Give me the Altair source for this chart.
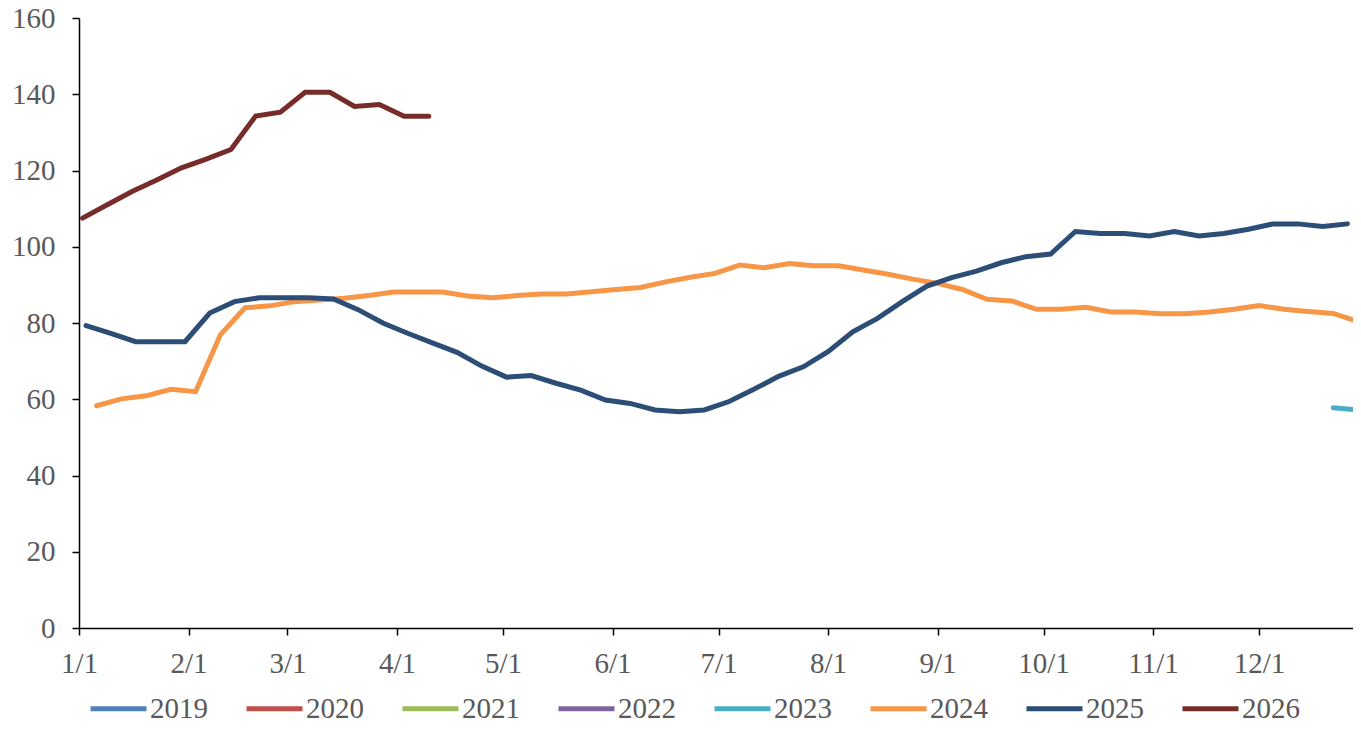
import altair as alt
import pandas as pd

years = ["2019", "2020", "2021", "2022", "2023", "2024", "2025", "2026"]
colors = ["#4F81BD", "#C0504D", "#9BBB59", "#8064A2", "#4BACC6", "#F79646", "#2C4D75", "#772C2A"]

# weekly series (plotted on a common calendar year)
v2023_start = "2025-12-22"
v2023 = [57.8, 57.2]

v2024_start = "2025-01-06"
v2024 = [58.3, 60.1, 60.9, 62.6, 62.0, 76.9, 84.0, 84.5, 85.6, 86.0,
         86.5, 87.2, 88.1, 88.1, 88.1, 87.1, 86.6, 87.2, 87.6, 87.6,
         88.2, 88.8, 89.3, 90.8, 92.0, 93.0, 95.2, 94.5, 95.6, 95.0,
         95.0, 93.9, 92.8, 91.5, 90.4, 88.8, 86.2, 85.8, 83.6, 83.6,
         84.1, 82.9, 82.9, 82.4, 82.4, 82.9, 83.6, 84.6, 83.6, 83.0,
         82.5, 80.4]

v2025_start = "2025-01-03"
v2025 = [79.3, 77.3, 75.1, 75.1, 75.1, 82.6, 85.6, 86.6, 86.6, 86.6,
         86.3, 83.5, 80.0, 77.3, 74.8, 72.3, 68.7, 65.8, 66.2, 64.2,
         62.4, 59.8, 58.9, 57.2, 56.7, 57.2, 59.4, 62.6, 66.0, 68.5,
         72.5, 77.7, 81.2, 85.6, 89.7, 91.9, 93.6, 95.8, 97.4, 98.1,
         104.0, 103.5, 103.5, 102.8, 104.0, 102.8, 103.5, 104.6, 106.0, 106.0,
         105.3, 106.0]

v2026_start = "2025-01-02"
v2026 = [107.5, 111.0, 114.5, 117.5, 120.7, 123.0, 125.5, 134.3, 135.3, 140.5,
         140.5, 136.8, 137.3, 134.2, 134.2]

series = [("2023", v2023_start, v2023), ("2024", v2024_start, v2024),
          ("2025", v2025_start, v2025), ("2026", v2026_start, v2026)]

rows = []
for yr, start, vals in series:
    dates = pd.date_range(start, periods=len(vals), freq="7D")
    for d, v in zip(dates, vals):
        rows.append({"year": yr, "date": d.strftime("%Y-%m-%d"), "value": v})
df = pd.DataFrame(rows)

FONT = "Liberation Serif"

chart = alt.Chart(df).mark_line(strokeWidth=5, clip=True, strokeCap="round").encode(
    x=alt.X("date:T",
            scale=alt.Scale(type="utc", domain=["2025-01-01", "2025-12-27T14:00:00"]),
            axis=alt.Axis(title=None, format="%-m/%-d",
                          tickCount={"interval": "month", "step": 1},
                          labelFlush=False, labelOverlap=False,
                          labelPadding=14, tickSize=7)),
    y=alt.Y("value:Q",
            scale=alt.Scale(domain=[0, 160], nice=False),
            axis=alt.Axis(title=None, values=list(range(0, 161, 20)),
                          labelPadding=17, tickSize=7)),
    color=alt.Color("year:N",
                    scale=alt.Scale(domain=years, range=colors),
                    legend=alt.Legend(title=None, orient="none", legendX=9, legendY=660,
                                      direction="horizontal", columns=8,
                                      symbolType="stroke", symbolSize=3136,
                                      symbolStrokeWidth=5, labelOffset=1,
                                      columnPadding=28, padding=0,
                                      labelFont=FONT, labelFontSize=29,
                                      labelColor="#595959", labelLimit=200)),
    order=alt.Order("year:N"),
).properties(
    width=1274, height=610,
    autosize=alt.AutoSizeParams(type="none"),
    padding={"left": 71, "top": 10, "right": 0, "bottom": 94},
).configure_view(stroke=None).configure_axis(
    grid=False, domainColor="#000000", domainWidth=1.5, tickColor="#000000", tickWidth=1.5,
    labelFont=FONT, labelFontSize=29, labelColor="#595959",
)

chart.save("out.html", embed_options={"renderer": "svg", "actions": False})
